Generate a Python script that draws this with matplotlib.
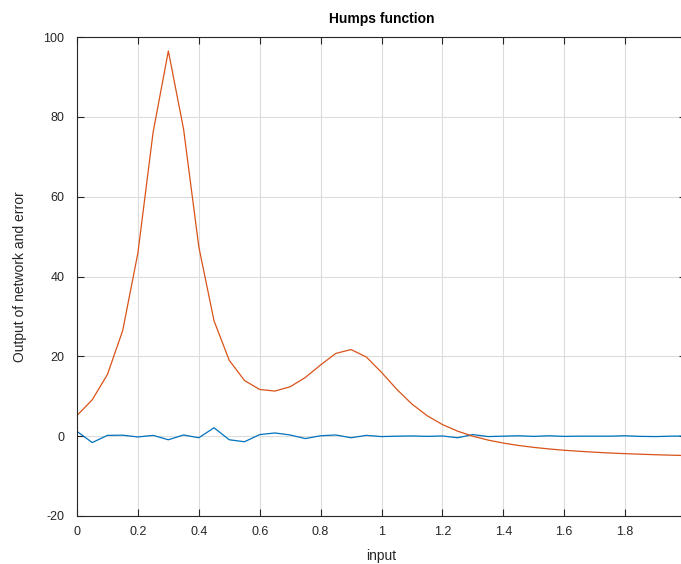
import matplotlib
matplotlib.use('Agg')
import matplotlib.pyplot as plt

plt.rcParams['font.family'] = ['Liberation Sans', 'DejaVu Sans']
plt.rcParams['axes.unicode_minus'] = False

# sample inputs 0:0.05:2
x = [0.0, 0.05, 0.1, 0.15, 0.2, 0.25, 0.3, 0.35, 0.4, 0.45,
     0.5, 0.55, 0.6, 0.65, 0.7, 0.75, 0.8, 0.85, 0.9, 0.95,
     1.0, 1.05, 1.1, 1.15, 1.2, 1.25, 1.3, 1.35, 1.4, 1.45,
     1.5, 1.55, 1.6, 1.65, 1.7, 1.75, 1.8, 1.85, 1.9, 1.95, 2.0]

# network output (orange)
output = [5.18, 9.10, 15.47, 26.43, 45.89, 76.16, 96.50, 76.92, 47.45, 28.89,
          19.00, 13.95, 11.69, 11.30, 12.38, 14.71, 17.85, 20.73, 21.70, 19.84,
          16.00, 11.75, 8.04, 5.12, 2.91, 1.25, -0.01, -0.98, -1.73, -2.33,
          -2.81, -3.20, -3.53, -3.79, -4.02, -4.22, -4.38, -4.52, -4.65, -4.76, -4.86]

# error (blue)
error = [1.2, -1.6, 0.2, 0.25, -0.2, 0.2, -0.9, 0.3, -0.4, 2.1,
         -0.9, -1.4, 0.4, 0.8, 0.3, -0.6, 0.1, 0.3, -0.4, 0.2,
         -0.1, 0.0, 0.05, -0.05, 0.05, -0.4, 0.4, -0.1, 0.0, 0.1,
         -0.05, 0.1, -0.05, 0.0, 0.0, 0.0, 0.1, -0.05, -0.1, 0.0, 0.05]

xticks = [0, 0.2, 0.4, 0.6, 0.8, 1.0, 1.2, 1.4, 1.6, 1.8, 2.0]
yticks = [-20, 0, 20, 40, 60, 80, 100]

fig = plt.figure(figsize=(6.81, 5.64), dpi=100)
ax = fig.add_axes([77/681, 48/564, 609/681, 479/564])

ax.plot(x, error, color='#0072BD', lw=0.9)
ax.plot(x, output, color='#D95319', lw=0.9)

ax.set_xlim(0, 2)
ax.set_ylim(-20, 100)
ax.set_xticks(xticks)
ax.set_xticklabels(['0', '0.2', '0.4', '0.6', '0.8', '1', '1.2', '1.4', '1.6', '1.8', '2'])
ax.set_yticks(yticks)

ax.grid(True, color='#dcdcdc', lw=0.8)
ax.set_axisbelow(True)

dark = '#262626'
for s in ax.spines.values():
    s.set_color(dark)
    s.set_linewidth(0.8)
ax.tick_params(direction='in', length=5, width=0.8, colors=dark, labelsize=9,
               top=True, right=True)
ax.tick_params(axis='y', pad=9)
ax.tick_params(axis='x', pad=7)

ax.set_title('Humps function', fontsize=10, fontweight='bold', color='black', pad=10)
ax.set_xlabel('input', fontsize=10, color=dark, labelpad=8)
ax.set_ylabel('Output of network and error', fontsize=10, color=dark, labelpad=12)

fig.savefig('out.png', dpi=100)
